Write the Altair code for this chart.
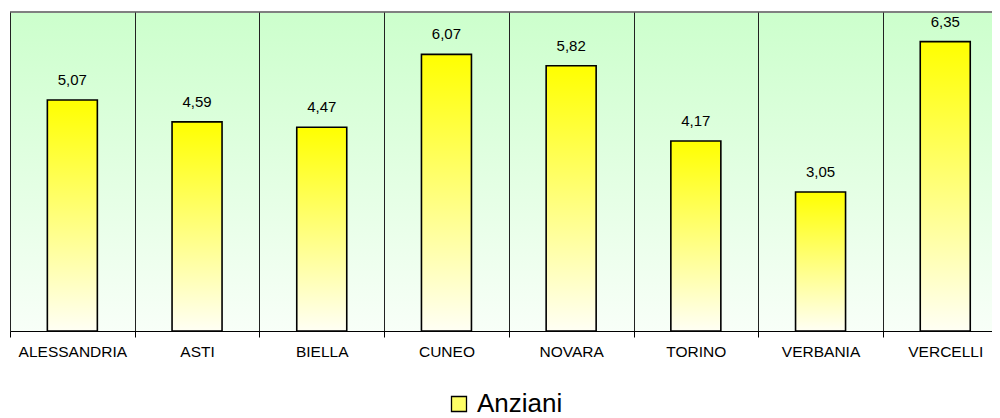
import altair as alt
import pandas as pd

categories = ["ALESSANDRIA", "ASTI", "BIELLA", "CUNEO", "NOVARA", "TORINO", "VERBANIA", "VERCELLI"]
values = [5.07, 4.59, 4.47, 6.07, 5.82, 4.17, 3.05, 6.35]
series_name = "Anziani"

df = pd.DataFrame({
    "idx": list(range(len(categories))),
    "provincia": categories,
    "valore": values,
    "etichetta": [f"{v:.2f}".replace(".", ",") for v in values],
    "serie": [series_name] * len(categories),
})

W, H = 982, 319
BAND = 124.7  # pixel width of one category slot (last slot is cut by the frame)
FONT = "Liberation Sans"

bar_grad = alt.LinearGradient(
    gradient="linear", x1=0, y1=0, x2=0, y2=1,
    stops=[alt.GradientStop(offset=0, color="#ffff00"),
           alt.GradientStop(offset=1, color="#fffff4")],
)
bg_grad = alt.LinearGradient(
    gradient="linear", x1=0, y1=0, x2=0, y2=1,
    stops=[alt.GradientStop(offset=0, color="#ccffcc"),
           alt.GradientStop(offset=1, color="#f8fff8")],
)

xscale = alt.Scale(domain=[-0.5, -0.5 + W / BAND], nice=False, zero=False, padding=0)
yscale = alt.Scale(domain=[0, 7], nice=False, padding=0)

boundaries = [i - 0.5 for i in range(len(categories))]
label_expr = "[" + ",".join(f"'{c}'" for c in categories) + "][round(datum.value + 0.5)]"

background = alt.Chart(df).mark_rect(fill=bg_grad).encode(
    x=alt.value(0), x2=alt.value(W), y=alt.value(0), y2=alt.value(H)
)

top_border = alt.Chart(df).mark_rule(color="#808080", strokeWidth=2).encode(
    x=alt.value(0), x2=alt.value(W), y=alt.value(0)
)

bars = alt.Chart(df).mark_bar(
    fill=bar_grad, stroke="black", strokeWidth=1.6, size=50, orient="vertical"
).encode(
    x=alt.X("idx:Q", scale=xscale,
            axis=alt.Axis(title=None, values=boundaries, labelExpr=label_expr,
                          labelOffset=BAND / 2, labelFlush=False, labelOverlap=False,
                          labelBound=False, grid=True, gridColor="#222",
                          gridWidth=1, domainColor="black", domainWidth=1.2,
                          tickColor="black", tickSize=6, labelFontSize=15.5,
                          labelFont=FONT, labelColor="black", labelPadding=7,
                          labelAngle=0, zindex=1)),
    y=alt.Y("valore:Q", scale=yscale, axis=None),
)

legend_layer = alt.Chart(df).mark_square(opacity=0).encode(
    x=alt.X("idx:Q", scale=xscale),
    y=alt.Y("valore:Q", scale=yscale),
    color=alt.Color("serie:N", scale=alt.Scale(range=["#ffff66"]),
                    legend=alt.Legend(title=None, orient="none", legendX=436, legendY=379,
                                      padding=0, symbolType="square", symbolSize=225,
                                      symbolStrokeColor="black", symbolStrokeWidth=1.3,
                                      symbolOpacity=1, symbolFillColor="#ffff66",
                                      labelFontSize=26, labelFont=FONT, labelColor="black",
                                      labelOffset=5)),
)

labels = alt.Chart(df).mark_text(
    dy=-15, fontSize=15, font=FONT, color="black", baseline="alphabetic"
).encode(
    x=alt.X("idx:Q", scale=xscale),
    y=alt.Y("valore:Q", scale=yscale),
    text="etichetta:N",
)

chart = alt.layer(background, top_border, bars, legend_layer, labels).properties(
    width=W, height=H,
    padding={"left": 2, "top": 4, "right": 0, "bottom": 87},
    autosize=alt.AutoSizeParams(type="none"),
).configure_view(stroke=None).configure(background="white")

chart.save("out.html", embed_options={"renderer": "svg", "actions": False})
